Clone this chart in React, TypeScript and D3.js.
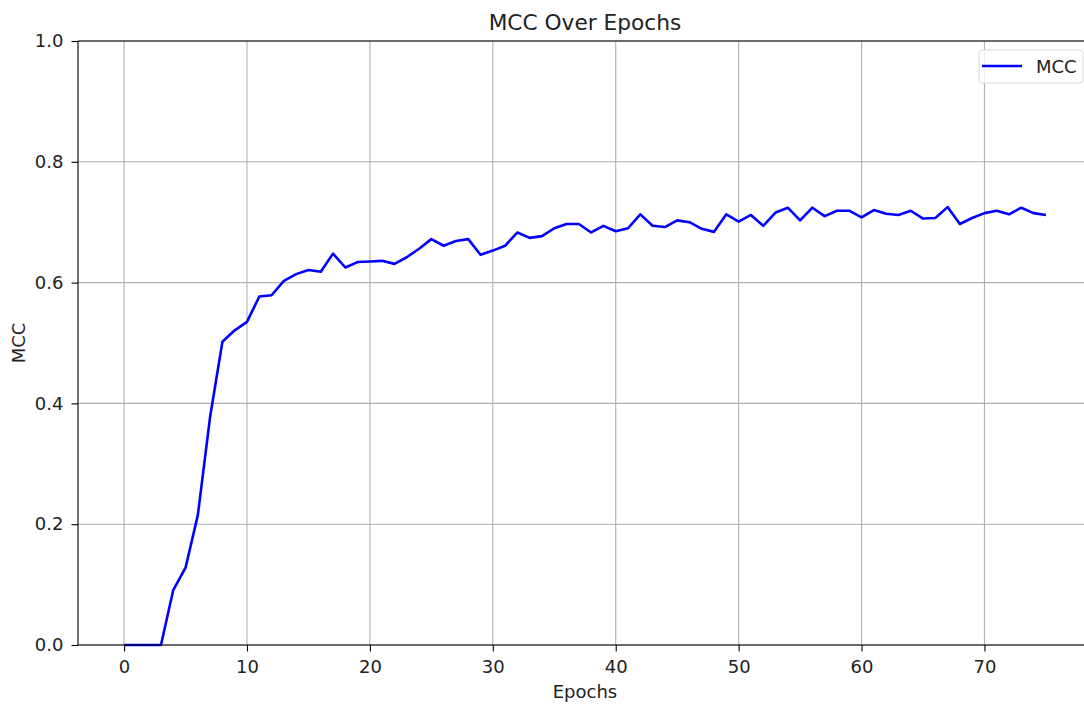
import React, { useRef, useEffect } from "react";
import * as d3 from "d3";

const epochs = d3.range(0, 76);
const mcc = [
  0, 0, 0, 0, 0.091, 0.128, 0.215, 0.378, 0.502, 0.521,
  0.535, 0.577, 0.579, 0.603, 0.614, 0.621, 0.618, 0.648, 0.625, 0.634,
  0.635, 0.636, 0.631, 0.642, 0.656, 0.672, 0.661, 0.669, 0.672, 0.646,
  0.653, 0.661, 0.683, 0.674, 0.677, 0.69, 0.697, 0.697, 0.683, 0.694,
  0.685, 0.69, 0.713, 0.694, 0.692, 0.703, 0.7, 0.689, 0.684, 0.713,
  0.701, 0.712, 0.694, 0.716, 0.724, 0.703, 0.724, 0.71, 0.719, 0.719,
  0.708, 0.72, 0.714, 0.712, 0.719, 0.706, 0.707, 0.725, 0.697, 0.707,
  0.715, 0.719, 0.713, 0.724, 0.715, 0.712,
];
const xTicks = [0, 10, 20, 30, 40, 50, 60, 70];
const yTicks = [0, 0.2, 0.4, 0.6, 0.8, 1.0];

const W = 1084;
const H = 706;
const font = "DejaVu Sans, sans-serif";
const fs = "18px";

function MCCChart() {
  const ref = useRef<SVGSVGElement>(null);

  useEffect(() => {
    const svg = d3.select(ref.current);
    svg.selectAll("*").remove();

    const left = 78, right = 1092, top = 41, bottom = 645;
    const x = d3.scaleLinear().domain([-3.75, 78.75]).range([left, right]);
    const y = d3.scaleLinear().domain([0, 1]).range([bottom, top]);

    // grid
    const grid = svg.append("g").attr("stroke", "#b0b0b0").attr("stroke-width", 1.1);
    xTicks.forEach((t) => {
      grid.append("line").attr("x1", x(t)).attr("x2", x(t)).attr("y1", top).attr("y2", bottom);
    });
    yTicks.forEach((t) => {
      grid.append("line").attr("x1", left).attr("x2", right).attr("y1", y(t)).attr("y2", y(t));
    });

    // line
    const line = d3
      .line<number>()
      .x((d, i) => x(epochs[i]))
      .y((d) => y(d));
    svg
      .append("path")
      .datum(mcc)
      .attr("d", line)
      .style("fill", "none")
      .style("stroke", "blue")
      .style("stroke-width", 2.6)
      .style("stroke-linejoin", "round");

    // axes
    const xAxis = svg
      .append("g")
      .attr("transform", `translate(0,${bottom})`)
      .call(d3.axisBottom(x).tickValues(xTicks).tickSize(6.5).tickPadding(8.5).tickFormat(d3.format("d")));
    const yAxis = svg
      .append("g")
      .attr("transform", `translate(${left},0)`)
      .call(d3.axisLeft(y).tickValues(yTicks).tickSize(6.5).tickPadding(8).tickFormat(d3.format(".1f")));
    [xAxis, yAxis].forEach((a) => {
      a.select(".domain").remove();
      a.selectAll("line").attr("stroke", "#000").attr("stroke-width", 1.1);
      a.selectAll("text").attr("fill", "#222").style("font-family", font).style("font-size", fs);
    });

    // spines
    const sp = svg.append("g").attr("stroke", "#000").attr("stroke-width", 1.1);
    sp.append("line").attr("x1", left).attr("x2", left).attr("y1", top).attr("y2", bottom);
    sp.append("line").attr("x1", left).attr("x2", right).attr("y1", bottom).attr("y2", bottom);
    sp.append("line").attr("x1", left).attr("x2", right).attr("y1", top).attr("y2", top);
    sp.append("line").attr("x1", right).attr("x2", right).attr("y1", top).attr("y2", bottom);

    // title and labels
    svg
      .append("text")
      .attr("x", (left + right) / 2)
      .attr("y", 30)
      .attr("text-anchor", "middle")
      .style("font-family", font)
      .style("font-size", "21.7px")
      .attr("fill", "#222")
      .text("MCC Over Epochs");
    svg
      .append("text")
      .attr("x", (left + right) / 2)
      .attr("y", 698)
      .attr("text-anchor", "middle")
      .style("font-family", font)
      .style("font-size", fs)
      .attr("fill", "#222")
      .text("Epochs");
    svg
      .append("text")
      .attr("transform", `translate(25,${(top + bottom) / 2}) rotate(-90)`)
      .attr("text-anchor", "middle")
      .style("font-family", font)
      .style("font-size", fs)
      .attr("fill", "#222")
      .text("MCC");

    // legend
    const lg = svg.append("g");
    lg.append("rect")
      .attr("x", 979)
      .attr("y", 50)
      .attr("width", 104)
      .attr("height", 33)
      .attr("rx", 3)
      .attr("fill", "rgba(255,255,255,0.8)")
      .attr("stroke", "#d9d9d9");
    lg.append("line")
      .attr("x1", 982)
      .attr("x2", 1022)
      .attr("y1", 66)
      .attr("y2", 66)
      .attr("stroke", "blue")
      .attr("stroke-width", 2.6);
    lg.append("text")
      .attr("x", 1036)
      .attr("y", 72.5)
      .style("font-family", font)
      .style("font-size", fs)
      .attr("fill", "#222")
      .text("MCC");
  }, []);

  return <svg ref={ref} width={W} height={H} style={{ display: "block" }}></svg>;
}

export default function App() {
  return (
    <div style={{ position: "absolute", left: 0, top: 0, width: W, height: H, background: "#fff", overflow: "hidden" }}>
      <MCCChart />
    </div>
  );
}
